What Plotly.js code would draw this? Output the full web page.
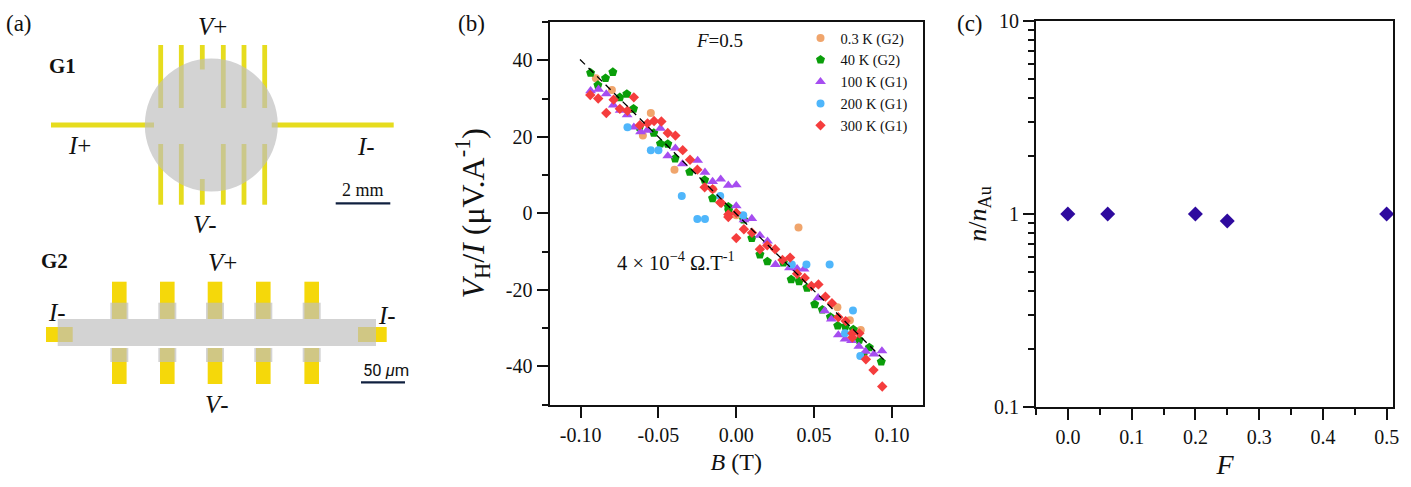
<!DOCTYPE html>
<html>
<head>
<meta charset="utf-8">
<script src="https://cdn.plot.ly/plotly-3.0.1.min.js"></script>
<style>body { margin: 0; background: #fff; } #chart { width: 1411px; height: 487px; }</style>
</head>
<body>
<div id="chart"></div>
<script>
// panel (b): Hall signal against field, one pair of arrays per temperature
const b03K = [-0.0902, -0.0799, -0.0549, -0.060, -0.0397, -0.015, 0.040, 0.000, 0.065, 0.080, 0.073];
const v03K = [35.3, 32.2, 26.2, 20.3, 11.4, 6.3, -3.7, -0.5, -24.6, -30.5, -28.0];

const b40K = [-0.0936, -0.0793, -0.084, -0.0889, -0.0703, -0.0748, -0.066, -0.0622, -0.053, -0.0487, -0.044, -0.0393, -0.0299, -0.0203, -0.0152, -0.0051, -0.0049, 0.0047, 0.010, 0.0152, 0.020, 0.0303, 0.0353, 0.0404, 0.0455, 0.0504, 0.0553, 0.0605, 0.0652, 0.0701, 0.0752, 0.079, 0.0855, 0.0932, 0.0816];
const v40K = [36.7, 36.9, 35.3, 33.5, 31.2, 30.3, 27.3, 22.5, 21.0, 18.2, 18.1, 14.3, 10.8, 8.7, 3.9, 1.7, 0.8, -1.7, -6.5, -10.8, -12.6, -12.9, -17.3, -17.8, -19.5, -23.8, -25.2, -27.1, -29.4, -29.6, -30.4, -33.1, -35.1, -38.8, -37.1];

const b100K = [-0.0936, -0.0885, -0.0835, -0.079, -0.0746, -0.0701, -0.0658, -0.0615, -0.0573, -0.0487, -0.0391, -0.044, -0.0346, -0.0248, -0.0201, -0.0152, -0.010, -0.0051, 0.000, 0.000, 0.005, 0.010, 0.0152, 0.0201, 0.0252, 0.0342, 0.0391, 0.0436, 0.0526, 0.0568, 0.0611, 0.0656, 0.0699, 0.0741, 0.0788, 0.0831, 0.0885, 0.0936];
const v100K = [32.0, 32.4, 31.2, 28.3, 26.9, 25.7, 22.5, 21.3, 21.7, 22.2, 17.0, 15.0, 12.9, 13.8, 10.7, 8.3, 8.9, 7.3, 7.4, 1.9, -1.7, -1.4, -5.8, -7.3, -13.4, -14.3, -14.5, -14.6, -22.1, -25.5, -27.7, -31.8, -32.9, -33.3, -34.8, -36.1, -36.8, -36.0];

const b200K = [-0.0699, -0.0549, -0.050, -0.035, -0.0103, -0.025, -0.0201, 0.0045, 0.0357, 0.0451, 0.060, 0.075, 0.0699, 0.0797];
const v200K = [22.5, 16.5, 16.5, 4.5, 4.5, -1.5, -1.5, -0.5, -13.4, -13.4, -13.4, -25.4, -31.4, -37.3];

const b300K = [-0.0938, -0.0887, -0.0835, -0.0788, -0.0748, -0.0699, -0.0658, -0.062, -0.057, -0.0528, -0.0481, -0.044, -0.0391, -0.0344, -0.0297, -0.025, -0.0203, -0.0152, -0.0103, -0.0051, -0.0096, -0.0051, 0.000, 0.000, 0.0049, 0.0101, 0.0152, 0.0199, 0.025, 0.0297, 0.0346, 0.0391, 0.044, 0.0483, 0.0528, 0.0573, 0.0615, 0.0656, 0.0703, 0.0746, 0.0791, 0.0746, 0.0833, 0.0882, 0.0938];
const v300K = [30.9, 30.0, 26.2, 29.7, 27.3, 26.8, 30.3, 23.0, 23.5, 24.1, 24.0, 21.0, 20.3, 16.5, 14.0, 11.4, 6.8, 6.3, 2.8, -0.3, 2.7, -1.0, 0.1, -6.5, -4.2, -5.1, -9.4, -8.4, -9.4, -12.2, -11.6, -15.8, -16.9, -19.0, -18.6, -21.8, -23.5, -27.2, -28.2, -31.4, -31.4, -32.5, -38.2, -41.0, -45.3];

const fitB = [-0.1004, 0.0966];
const fitV = [40.2, -39.0];

const legendNames = ['0.3 K (G2)', '40 K (G2)', '100 K (G1)', '200 K (G1)', '300 K (G1)'];

// panel (c)
const fraction = [0, 0.0625, 0.2, 0.25, 0.5];
const density = [1, 1, 1, 0.92, 1];

// tick labels
const bTicks = [-0.10, -0.05, 0, 0.05, 0.10];
const bLabels = ['-0.10', '-0.05', '0.00', '0.05', '0.10'];
const vTicks = [40, 20, 0, -20, -40];
const vLabels = ['40', '20', '0', '-20', '-40'];
const vMinor = [50, 30, 10, -10, -30, -50];
const fTicks = [0, 0.1, 0.2, 0.3, 0.4, 0.5];
const fLabels = ['0.0', '0.1', '0.2', '0.3', '0.4', '0.5'];
const fMinor = [-0.05, 0.05, 0.15, 0.25, 0.35, 0.45];
const nTicks = [0.1, 1, 10];
const nLabels = ['0.1', '1', '10'];
const nMinor = [0.2, 0.3, 0.4, 0.5, 0.6, 0.7, 0.8, 0.9, 2, 3, 4, 5, 6, 7, 8, 9];

const W = 1411, H = 487;
const SERIF = '"Liberation Serif", "Times New Roman", serif';
const INK = '#111';
const fx = p => p / W;
const fy = p => 1 - p / H;

function scatter(x, y, name, symbol, color, size) {
    return {
        x, y, name,
        mode: 'markers',
        type: 'scatter',
        legendgroup: name,
        marker: { symbol, color, size },
        cliponaxis: false
    };
}

const data = [
    scatter(b03K, v03K, legendNames[0], 'circle', '#F0A56C', 8),
    scatter(b40K, v40K, legendNames[1], 'pentagon', '#0A9E0A', 9.5),
    scatter(b100K, v100K, legendNames[2], 'triangle-up', '#A64DF0', 9.5),
    scatter(b200K, v200K, legendNames[3], 'circle', '#4FB6FB', 8),
    scatter(b300K, v300K, legendNames[4], 'diamond', '#F53D3D', 8),
    {
        x: fitB, y: fitV,
        mode: 'lines',
        type: 'scatter',
        showlegend: false,
        line: { color: '#000', width: 1.3, dash: '7px,5px' }
    },
    {
        x: fraction, y: density,
        xaxis: 'x2', yaxis: 'y2',
        mode: 'markers',
        type: 'scatter',
        showlegend: false,
        marker: { symbol: 'diamond', color: '#2E0A9E', size: 11.5 },
        cliponaxis: false
    }
];

// schematic of panel (a), in pixels of the x3/y3 sheet
const YELLOW1 = '#E6DC1E', YELLOW2 = '#F5D80A', VEIL = 'rgba(190,190,190,0.68)';

function rect(x0, y0, x1, y1, color) {
    return { type: 'rect', xref: 'x3', yref: 'y3', x0, y0, x1, y1, fillcolor: color, line: { width: 0 }, layer: 'above' };
}

const shapes = [];
// G1
[160.7, 181.3, 223.3, 244, 264.7].forEach(x => {
    shapes.push(rect(x - 2.4, 45, x + 2.4, 108, YELLOW1));
    shapes.push(rect(x - 2.4, 144, x + 2.4, 204.7, YELLOW1));
});
shapes.push(rect(199.9, 45, 204.7, 69.5, YELLOW1));
shapes.push(rect(199.9, 179, 204.7, 204.7, YELLOW1));
shapes.push(rect(51, 122.6, 154, 127.4, YELLOW1));
shapes.push(rect(271.7, 122.6, 393.7, 127.4, YELLOW1));
shapes.push({ type: 'circle', xref: 'x3', yref: 'y3', x0: 144.8, y0: 58.5, x1: 277.8, y1: 191.5, fillcolor: VEIL, line: { width: 0 }, layer: 'above' });
shapes.push(rect(335.7, 202.2, 390.3, 204.6, '#10203F'));
// G2
shapes.push(rect(46, 327, 60, 342, YELLOW2));
shapes.push(rect(60, 327, 72.7, 342, YELLOW2));
shapes.push(rect(358, 327, 386.7, 342, YELLOW2));
[119.3, 167.3, 215, 263.3, 311.7].forEach(x => {
    shapes.push(rect(x - 7.3, 281.7, x + 7.3, 319, YELLOW2));
    shapes.push(rect(x - 7.3, 348, x + 7.3, 384, YELLOW2));
    shapes.push(rect(x - 9, 302.7, x + 9, 319, VEIL));
    shapes.push(rect(x - 9, 348, x + 9, 362, VEIL));
});
shapes.push(rect(57.7, 319, 376, 346, VEIL));
shapes.push(rect(361, 381.2, 405, 383.6, '#10203F'));

function sheetLabel(text, x, y, size, family) {
    return {
        text, x, y,
        xref: 'x3', yref: 'y3',
        showarrow: false,
        xanchor: 'center', yanchor: 'middle',
        font: { family: family || SERIF, size: size || 25, color: INK }
    };
}

function pageLabel(text, x, y, size) {
    return {
        text, x: fx(x), y: fy(y),
        xref: 'paper', yref: 'paper',
        showarrow: false,
        xanchor: 'center', yanchor: 'middle',
        font: { family: SERIF, size, color: INK }
    };
}

const annotations = [
    pageLabel('(a)', 19, 24, 23),
    pageLabel('(b)', 471, 24, 23),
    pageLabel('(c)', 970, 24, 23),
    pageLabel('<i>F</i>=0.5', 720, 41, 19),
    pageLabel('4 × 10<sup>−4</sup> Ω.T<sup>-1</sup>', 676, 261, 20.5),
    sheetLabel('<i>V</i>+', 212, 26),
    sheetLabel('<b>G1</b>', 62.7, 66, 21),
    sheetLabel('<i>I</i>+', 79, 145),
    sheetLabel('<i>I</i>-', 365.7, 146),
    sheetLabel('<i>V</i>-', 204.7, 224),
    sheetLabel('2 mm', 363, 190, 18),
    sheetLabel('<b>G2</b>', 54.3, 261, 21),
    sheetLabel('<i>V</i>+', 222.7, 262),
    sheetLabel('<i>I</i>-', 57.3, 312),
    sheetLabel('<i>I</i>-', 387.3, 315),
    sheetLabel('<i>V</i>-', 217.3, 404),
    sheetLabel('50 <i>μ</i>m', 386, 370, 16.5, 'Roboto, sans-serif')
];

const baseAxis = {
    showgrid: false,
    zeroline: false,
    showline: true,
    mirror: true,
    linecolor: INK,
    linewidth: 2,
    ticks: 'outside',
    ticklen: 11,
    tickwidth: 2,
    tickcolor: INK,
    tickfont: { family: SERIF, size: 20, color: INK }
};

const layout = {
    width: W,
    height: H,
    margin: { l: 0, r: 0, t: 0, b: 0 },
    paper_bgcolor: '#fff',
    plot_bgcolor: 'rgba(0,0,0,0)',
    font: { family: SERIF, color: INK },
    hovermode: 'closest',
    shapes,
    annotations,
    legend: {
        x: fx(800.5), y: fy(22), xanchor: 'left', yanchor: 'top',
        bgcolor: 'rgba(0,0,0,0)',
        font: { family: SERIF, size: 14.5, color: INK },
        tracegroupgap: 0,
        traceorder: 'grouped',
        itemwidth: 30
    },
    xaxis: {
        ...baseAxis,
        domain: [fx(549.5), fx(923)],
        anchor: 'y',
        range: [-0.12, 0.12],
        tickvals: bTicks, ticktext: bLabels,
        title: { text: '<i>B</i> (T)', font: { family: SERIF, size: 24, color: INK }, standoff: 9 }
    },
    yaxis: {
        ...baseAxis,
        domain: [fy(404.5), fy(22)],
        anchor: 'x',
        range: [-50, 50],
        tickvals: vTicks, ticktext: vLabels,
        minor: { tickvals: vMinor, ticks: 'outside', ticklen: 6, tickwidth: 2, tickcolor: INK },
        title: { text: '<i>V</i><sub>H</sub>/<i>I</i> (μV.A<sup>-1</sup>)', font: { family: SERIF, size: 32, color: INK }, standoff: 12 }
    },
    xaxis2: {
        ...baseAxis,
        domain: [fx(1036), fx(1393)],
        anchor: 'y2',
        range: [-0.05, 0.51],
        tickvals: fTicks, ticktext: fLabels,
        minor: { tickvals: fMinor, ticks: 'outside', ticklen: 6, tickwidth: 2, tickcolor: INK },
        title: { text: '&nbsp;&nbsp;&nbsp;<i>F</i>', font: { family: SERIF, size: 28, color: INK }, standoff: 7 }
    },
    yaxis2: {
        ...baseAxis,
        domain: [fy(407), fy(21)],
        anchor: 'x2',
        type: 'log',
        range: [-1, 1],
        tickvals: nTicks, ticktext: nLabels,
        minor: { tickvals: nMinor, ticks: 'outside', ticklen: 6, tickwidth: 2, tickcolor: INK },
        title: { text: '<i>n</i>/<i>n</i><sub>Au</sub>', font: { family: SERIF, size: 26, color: INK }, standoff: 0 }
    },
    xaxis3: { domain: [0, fx(440)], range: [0, 440], anchor: 'y3', visible: false, fixedrange: true },
    yaxis3: { domain: [0, 1], range: [H, 0], anchor: 'x3', visible: false, fixedrange: true }
};

Plotly.newPlot('chart', data, layout, { displayModeBar: false });
</script>
</body>
</html>
